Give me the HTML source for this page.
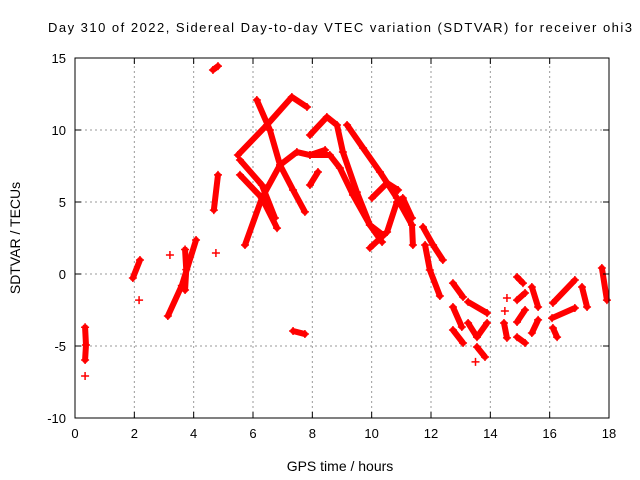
<!DOCTYPE html>
<html><head><meta charset="utf-8"><style>
html,body{margin:0;padding:0;background:#fff}
svg{display:block;font-family:"Liberation Sans",sans-serif}
</style></head><body>
<svg id="chart" width="640" height="480" viewBox="0 0 640 480">
<rect x="0" y="0" width="640" height="480" fill="#fff"/>
<text x="340" y="32" font-size="13" text-anchor="middle" textLength="584">Day 310 of 2022, Sidereal Day-to-day VTEC variation (SDTVAR) for receiver ohi3</text>
<g id="grid"></g>
<g id="marks"></g>
<rect x="75" y="58" width="534" height="360" fill="none" stroke="#000" stroke-width="1"/>
<g id="ticks"></g>
<text transform="translate(20,238) rotate(-90)" font-size="14" text-anchor="middle">SDTVAR / TECUs</text>
<text x="340" y="471" font-size="14" text-anchor="middle">GPS time / hours</text>
</svg>
<script>
const xTicks = [0,2,4,6,8,10,12,14,16,18];
const yTicks = [-10,-5,0,5,10,15];
const tracks = [
 [[0.34,-3.7],[0.37,-4.93],[0.34,-5.97]],
 [[1.95,-0.28],[2.19,0.97]],
 [[3.13,-2.92],[3.6,-0.8],[4.08,2.36]],
 [[3.71,1.7],[3.75,0.3],[3.71,-1.11]],
 [[4.65,14.17],[4.82,14.44]],
 [[4.68,4.44],[4.82,6.88]],
 [[6.13,12.08],[6.57,10.0],[6.91,7.57],[7.35,5.83],[7.75,4.31]],
 [[5.49,8.26],[6.47,10.35],[7.31,12.29],[7.82,11.6]],
 [[5.56,7.92],[6.30,6.18],[6.74,3.89]],
 [[5.56,6.88],[6.30,5.28],[6.81,3.19]],
 [[5.73,2.01],[6.30,5.28],[6.91,7.57],[7.48,8.47],[7.92,8.26],[8.43,8.61]],
 [[7.92,9.65],[8.49,10.90],[8.83,10.35],[9.03,8.47],[9.50,5.69],[9.94,3.40],[10.38,2.71]],
 [[9.17,10.35],[9.71,8.75],[10.28,7.08],[10.85,5.28],[11.36,3.40],[11.39,2.01]],
 [[7.92,8.26],[8.59,8.26],[8.93,7.36],[9.37,5.49],[9.94,3.40],[10.35,2.22]],
 [[9.94,1.81],[10.52,2.92],[10.85,5.0],[11.05,5.28],[11.36,3.89]],
 [[10.01,5.28],[10.52,6.32],[10.89,5.83]],
 [[7.92,6.18],[8.19,7.08]],
 [[7.35,-3.96],[7.75,-4.17]],
 [[11.73,3.26],[12.07,2.01],[12.40,0.97]],
 [[11.80,2.01],[11.96,0.28],[12.30,-1.53]],
 [[12.74,-0.63],[13.08,-1.60]],
 [[13.25,-1.94],[13.89,-2.71]],
 [[12.74,-2.29],[13.04,-3.68]],
 [[12.74,-3.89],[13.08,-4.79]],
 [[13.25,-3.40],[13.55,-4.38],[13.89,-3.40]],
 [[13.55,-5.07],[13.82,-5.76]],
 [[14.46,-3.40],[14.56,-4.44]],
 [[14.90,-0.21],[15.10,-0.63]],
 [[14.90,-1.81],[15.17,-1.32]],
 [[14.90,-3.33],[15.17,-2.50]],
 [[14.90,-4.38],[15.17,-4.79]],
 [[15.40,-0.90],[15.61,-2.29]],
 [[15.40,-4.10],[15.61,-3.19]],
 [[16.11,-2.01],[16.85,-0.42]],
 [[16.08,-3.06],[16.85,-2.36]],
 [[16.11,-3.75],[16.25,-4.38]],
 [[17.09,-0.90],[17.26,-2.29]],
 [[17.76,0.42],[17.93,-1.81]]
];
const singles = [[0.34,-7.08],[2.16,-1.81],[3.20,1.32],[4.75,1.46],[14.56,-1.67],[14.49,-2.57],[13.50,-6.1]];
const NS='http://www.w3.org/2000/svg';
const X0=75,X1=609,Y0=418,Y1=58;
function sx(v){return X0+(v-0)/(18-0)*(X1-X0);}
function sy(v){return Y0-(v+10)/(25)*(Y0-Y1);}
const grid=document.getElementById('grid'),ticks=document.getElementById('ticks'),marks=document.getElementById('marks');
function mk(tag,attrs,parent){const e=document.createElementNS(NS,tag);for(const k in attrs)e.setAttribute(k,attrs[k]);parent.appendChild(e);return e;}
xTicks.forEach(t=>{
 const x=sx(t);
 if(t>0&&t<18){const g=mk('line',{x1:x,y1:Y0,x2:x,y2:Y1,stroke:'#999','stroke-dasharray':'2,3'},grid);
 
 }
 mk('line',{x1:x,y1:Y0,x2:x,y2:Y0-6,stroke:'#000'},ticks);
 mk('line',{x1:x,y1:Y1,x2:x,y2:Y1+6,stroke:'#000'},ticks);
 const l=mk('text',{x:x,y:Y0+20,'font-size':13,'text-anchor':'middle'},ticks);l.textContent=t;
 
 
});
yTicks.forEach(t=>{
 const y=sy(t);
 if(t>-10&&t<15){const g=mk('line',{x1:X0,y1:y,x2:X1,y2:y,stroke:'#999','stroke-dasharray':'2,3'},grid);
 
 }
 mk('line',{x1:X0,y1:y,x2:X0+6,y2:y,stroke:'#000'},ticks);
 mk('line',{x1:X1,y1:y,x2:X1-6,y2:y,stroke:'#000'},ticks);
 const l=mk('text',{x:X0-9,y:y+5,'font-size':13,'text-anchor':'end'},ticks);l.textContent=t;
 
 
});
function plus(v){const x=sx(v[0]),y=sy(v[1]);
 const p=mk('path',{d:`M${x-4},${y}H${x+4}M${x},${y-4}V${y+4}`,stroke:'#f00','stroke-width':1.5,fill:'none'},marks);
 
 }
tracks.forEach(tr=>{
 const pl=mk('polyline',{points:tr.map(v=>sx(v[0])+','+sy(v[1])).join(' '),stroke:'#f00','stroke-width':6,fill:'none','stroke-linejoin':'round','stroke-linecap':'round'},marks);
 
 
 tr.forEach(plus);
});
singles.forEach(plus);
</script>
</body></html>
